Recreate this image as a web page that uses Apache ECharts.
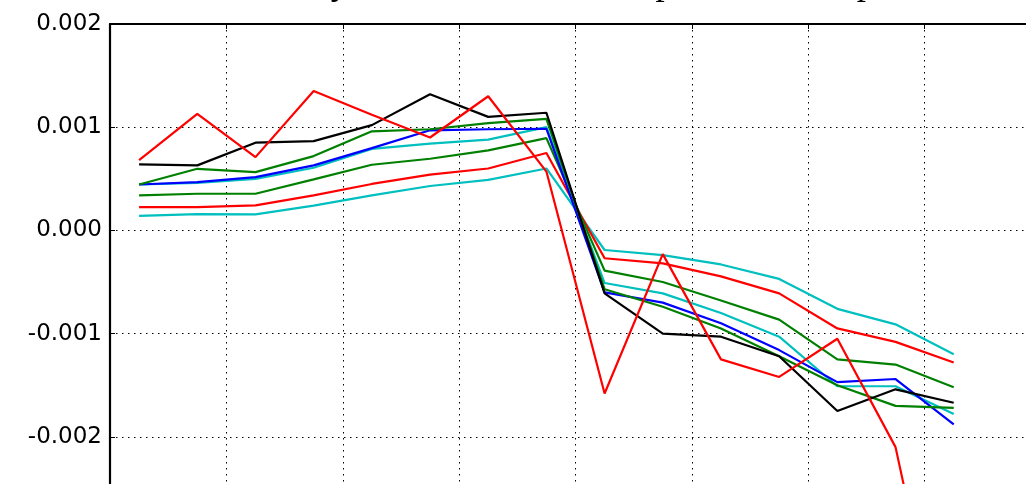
<!DOCTYPE html>
<html>
<head>
<meta charset="utf-8">
<script src="https://cdn.jsdelivr.net/npm/echarts@6/dist/echarts.min.js"></script>
<style>
  html, body { margin: 0; padding: 0; background: #fff; overflow: hidden; }
  #chart { width: 1060px; height: 560px; }
</style>
</head>
<body>
<div id="chart"></div>
<script>
// Sample positions along the horizontal axis
const xs = [0.25, 0.75, 1.25, 1.75, 2.25, 2.75, 3.25, 3.75, 4.25, 4.75, 5.25, 5.75, 6.25, 6.75, 7.25];

// Response curves
const redSpiky   = [0.00068, 0.00113, 0.00071, 0.00135, 0.00112, 0.00090, 0.00130, 0.00057, -0.00158, -0.00023, -0.00125, -0.00142, -0.00105, -0.00210, -0.00470];
const blackLine  = [0.00064, 0.00063, 0.00085, 0.000865, 0.00102, 0.00132, 0.00110, 0.00114, -0.00061, -0.00100, -0.00103, -0.00122, -0.00175, -0.00154, -0.00167];
const greenUpper = [0.000445, 0.000597, 0.000565, 0.00072, 0.00096, 0.00098, 0.00104, 0.00108, -0.00057, -0.00074, -0.00095, -0.00122, -0.00150, -0.00170, -0.00172];
const blueLine   = [0.000445, 0.000468, 0.000516, 0.00063, 0.000797, 0.00097, 0.00098, 0.000985, -0.00060, -0.00070, -0.00090, -0.00116, -0.00147, -0.00144, -0.00188];
const cyanUpper  = [0.000445, 0.00046, 0.00050, 0.000607, 0.00079, 0.00084, 0.00088, 0.00100, -0.00051, -0.00061, -0.00080, -0.00103, -0.00151, -0.00151, -0.00178];
const greenLower = [0.00034, 0.000355, 0.000355, 0.000494, 0.000636, 0.000694, 0.000775, 0.000894, -0.00039, -0.00050, -0.00068, -0.000865, -0.00125, -0.00130, -0.00152];
const redLower   = [0.000226, 0.000226, 0.000242, 0.00034, 0.00045, 0.00054, 0.00060, 0.00075, -0.00027, -0.00032, -0.000445, -0.00061, -0.00095, -0.00108, -0.00128];
const cyanLower  = [0.00014, 0.000158, 0.000155, 0.00024, 0.00034, 0.00043, 0.00049, 0.00060, -0.00019, -0.00024, -0.00033, -0.00047, -0.00076, -0.00091, -0.00120];

const seriesDefs = [
  { name: 'cyanLower', data: cyanLower, color: '#00bfbf' },
  { name: 'redLower', data: redLower, color: '#ff0000' },
  { name: 'greenLower', data: greenLower, color: '#008000' },
  { name: 'cyanUpper', data: cyanUpper, color: '#00bfbf' },
  { name: 'blueLine', data: blueLine, color: '#0000ff' },
  { name: 'greenUpper', data: greenUpper, color: '#008000' },
  { name: 'blackLine', data: blackLine, color: '#000000' },
  { name: 'redSpiky', data: redSpiky, color: '#ff0000' }
];

const titleText = 'Sensitivity of the modelled temperature at depth';

const dotted = { color: '#000', width: 1, type: [1.5, 4.5] };

const chart = echarts.init(document.getElementById('chart'), null, { renderer: 'canvas' });
chart.setOption({
  animation: false,
  backgroundColor: '#fff',
  graphic: [{
    type: 'text',
    x: 191,
    y: -16,
    style: {
      text: titleText,
      fontSize: 37,
      fontFamily: 'Liberation Serif',
      fill: '#000',
      align: 'left',
      verticalAlign: 'middle'
    }
  }],
  grid: { left: 110, top: 24, width: 931, height: 516 },
  xAxis: {
    type: 'value',
    position: 'top',
    min: 0,
    max: 8,
    interval: 1,
    axisLine: { show: true, onZero: false, lineStyle: { color: '#000', width: 2.2 } },
    axisTick: { show: true, inside: true, length: 5, lineStyle: { color: '#000', width: 1 } },
    axisLabel: { show: false },
    splitLine: { show: true, lineStyle: dotted }
  },
  yAxis: {
    type: 'value',
    min: -0.003,
    max: 0.002,
    interval: 0.001,
    axisLine: { show: true, onZero: false, lineStyle: { color: '#000', width: 2.2 } },
    axisTick: { show: true, inside: true, length: 5, lineStyle: { color: '#000', width: 1 } },
    axisLabel: {
      formatter: v => v.toFixed(3),
      fontFamily: 'DejaVu Sans',
      fontSize: 23,
      color: '#000',
      margin: 8
    },
    splitLine: { show: true, lineStyle: dotted }
  },
  series: seriesDefs.map(s => ({
    name: s.name,
    type: 'line',
    showSymbol: false,
    data: xs.map((x, i) => [x, s.data[i]]),
    lineStyle: { color: s.color, width: 2.2 },
    itemStyle: { color: s.color },
    emphasis: { disabled: true }
  }))
});
</script>
</body>
</html>
